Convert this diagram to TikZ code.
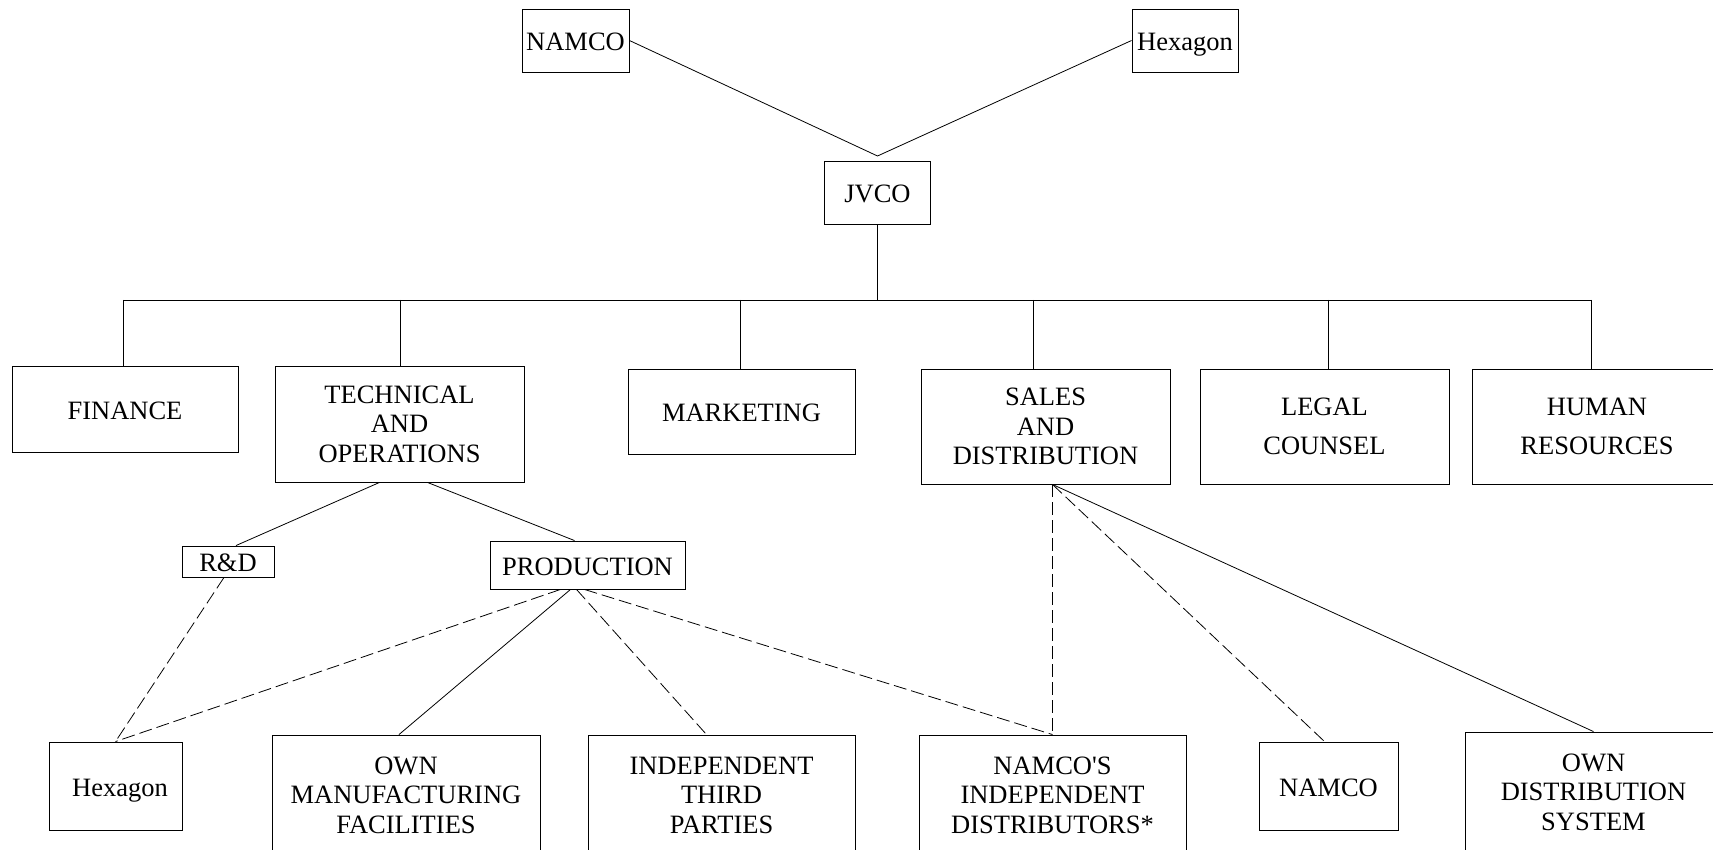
\documentclass[tikz,border=0pt]{standalone}
\usepackage{fontspec}
\setmainfont{Liberation Serif}
\usepackage{tikz}

\tikzset{
    unit/.style={draw, line width=0.9pt, inner sep=0pt, align=center, font=\fontsize{26.5}{29.5}\selectfont},
    oneline/.style={unit, text height=20pt, text depth=0pt},
    link/.style={line width=0.8pt},
    loose/.style={line width=0.8pt, dash pattern=on 13pt off 5pt}
}

\begin{document}
\begin{tikzpicture}[x=1pt, y=-1pt]
    \useasboundingbox (0,0) rectangle (1713,850);

    % Parents and joint venture
    \node[oneline, minimum width=107pt, minimum height=63pt] (namco) at (575.5,40.5) {NAMCO};
    \node[oneline, minimum width=106pt, minimum height=63pt] (hexagon) at (1185,40.5) {Hexagon};
    \node[oneline, minimum width=106pt, minimum height=63pt] (jvco) at (877.5,192.5) {JVCO};
    \coordinate (apex) at (877.5,156);
    \draw[link] (namco.east) -- (apex) -- (hexagon.west);

    % Departments
    \node[oneline, minimum width=226pt, minimum height=86pt] (finance) at (125,409) {FINANCE};
    \node[unit, minimum width=249pt, minimum height=116pt] (tech) at (399.5,424) {TECHNICAL\\AND\\OPERATIONS};
    \node[oneline, minimum width=227pt, minimum height=85pt] (marketing) at (741.5,411.5) {MARKETING};
    \node[unit, minimum width=249pt, minimum height=115pt] (sales) at (1045.5,426.5) {SALES\\AND\\DISTRIBUTION};
    \node[unit, minimum width=249pt, minimum height=115pt] (legal) at (1324.5,426.5) {LEGAL\\[10pt]COUNSEL};
    \node[unit, minimum width=250pt, minimum height=115pt] (hr) at (1597,426.5) {HUMAN\\[10pt]RESOURCES};

    \coordinate (bus) at (877.5,300);
    \draw[link] (jvco) -- (bus);
    \draw[link] ([xshift=-2pt]bus -| finance.north) -- ([xshift=-6pt]bus -| hr.north);
    \foreach \dept/\dx in {finance/-2, tech/1, marketing/-1, sales/-12, legal/4, hr/-6}
        \draw[link] ([xshift=\dx pt]bus -| \dept.north) -- ([xshift=\dx pt]\dept.north);

    % Technical and operations
    \node[oneline, minimum width=92pt, minimum height=31pt] (rd) at (228,561.5) {R\&D};
    \node[oneline, minimum width=195pt, minimum height=48pt] (production) at (587.5,565) {PRODUCTION};
    \draw[link] ([xshift=-20pt]tech.south) -- ([xshift=8pt]rd.north);
    \draw[link] ([xshift=28pt]tech.south) -- ([xshift=-13pt]production.north);

    % Suppliers and channels
    \node[oneline, minimum width=133pt, minimum height=88pt] (hexbot) at (115.5,786) {\hspace*{9pt}Hexagon};
    \node[unit, minimum width=268pt, minimum height=120pt] (ownmanuf) at (406,795) {OWN\\MANUFACTURING\\FACILITIES};
    \node[unit, minimum width=267pt, minimum height=120pt] (indthird) at (721.5,795) {INDEPENDENT\\THIRD\\PARTIES};
    \node[unit, minimum width=267pt, minimum height=120pt] (namcos) at (1052.5,795) {NAMCO\textquotesingle S\\INDEPENDENT\\DISTRIBUTORS*};
    \node[oneline, minimum width=139pt, minimum height=88pt] (namcobot) at (1328.5,786) {NAMCO};
    \node[unit, minimum width=257pt, minimum height=120pt] (owndist) at (1593.5,792) {OWN\\DISTRIBUTION\\SYSTEM};

    \draw[loose] ([xshift=-4pt]rd.south) -- (hexbot.north);
    \draw[loose] ([xshift=-27pt]production.south) -- (hexbot.north);
    \draw[link] ([xshift=-17pt]production.south) -- ([xshift=-7pt]ownmanuf.north);
    \draw[loose] ([xshift=-11pt]production.south) -- ([xshift=-15pt]indthird.north);
    \draw[loose] ([xshift=-3pt]production.south) -- (namcos.north);

    \draw[loose] ([xshift=7pt]sales.south) -- (namcos.north);
    \draw[loose] ([xshift=7pt]sales.south) -- ([xshift=-4pt]namcobot.north);
    \draw[link] ([xshift=7pt]sales.south) -- (owndist.north);
\end{tikzpicture}
\end{document}
